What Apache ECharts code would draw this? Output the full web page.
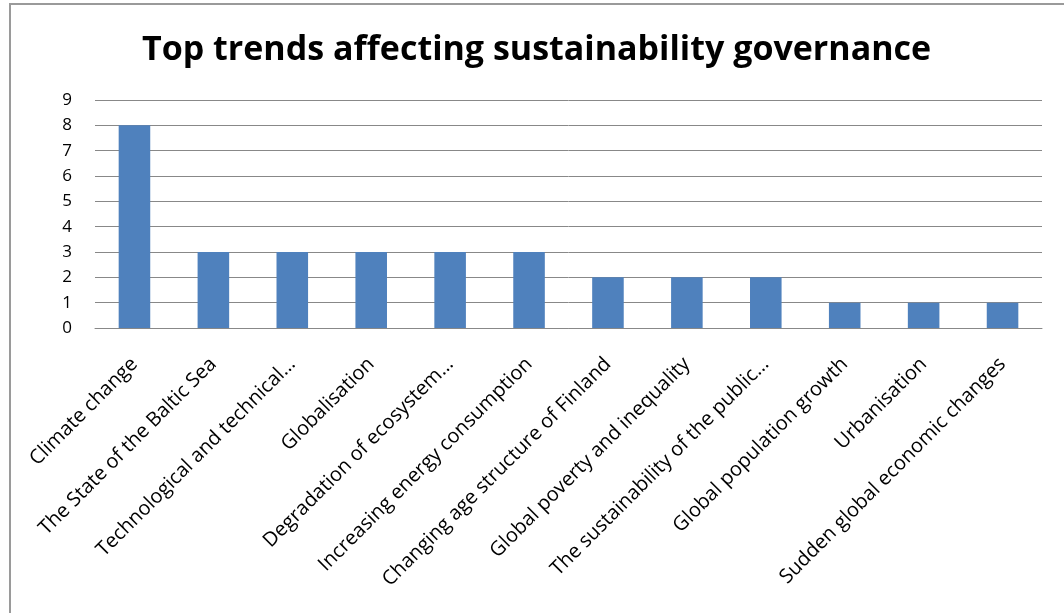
<!DOCTYPE html>
<html>
<head>
<meta charset="utf-8">
<script src="https://cdn.jsdelivr.net/npm/echarts@6/dist/echarts.min.js"></script>
<style>
  html, body { margin: 0; padding: 0; background: #fff; overflow: hidden; }
  #chart { width: 1064px; height: 613px; }
  #frame { position: absolute; left: 9px; top: 3px; width: 1100px; height: 700px; border: 2px solid #9a9a9a; box-sizing: border-box; pointer-events: none; }
</style>
</head>
<body>
<div id="chart"></div>
<div id="frame"></div>
<script>
var titleText = 'Top trends affecting sustainability governance';

var categories = [
    'Climate change',
    'The State of the Baltic Sea',
    'Technological and technical…',
    'Globalisation',
    'Degradation of ecosystem…',
    'Increasing energy consumption',
    'Changing age structure of Finland',
    'Global poverty and inequality',
    'The sustainability of the public…',
    'Global population growth',
    'Urbanisation',
    'Sudden global economic changes'
];

var counts = [8, 3, 3, 3, 3, 3, 2, 2, 2, 1, 1, 1];

var myChart = echarts.init(document.getElementById('chart'));

var option = {
    animation: false,
    title: {
        text: titleText,
        left: 137,
        top: 28,
        textStyle: {
            fontFamily: 'Open Sans',
            fontWeight: 'bold',
            fontSize: 34,
            color: '#000'
        }
    },
    grid: {
        left: 95,
        right: 22,
        top: 100,
        bottom: 285
    },
    xAxis: {
        type: 'category',
        data: categories,
        axisLine: { lineStyle: { color: '#888', width: 1 } },
        axisTick: { show: false },
        axisLabel: {
            interval: 0,
            rotate: 45,
            margin: 33,
            fontFamily: 'Open Sans',
            fontSize: 20,
            color: '#000'
        }
    },
    yAxis: {
        type: 'value',
        min: 0,
        max: 9,
        interval: 1,
        axisLine: { show: false },
        axisTick: { show: false },
        splitLine: { lineStyle: { color: '#888', width: 1 } },
        axisLabel: {
            margin: 23,
            fontFamily: 'Open Sans',
            fontSize: 17,
            color: '#000'
        }
    },
    series: [
        {
            type: 'bar',
            data: counts,
            barWidth: '40%',
            itemStyle: { color: '#4F81BD' }
        }
    ]
};

myChart.setOption(option);
</script>
</body>
</html>
